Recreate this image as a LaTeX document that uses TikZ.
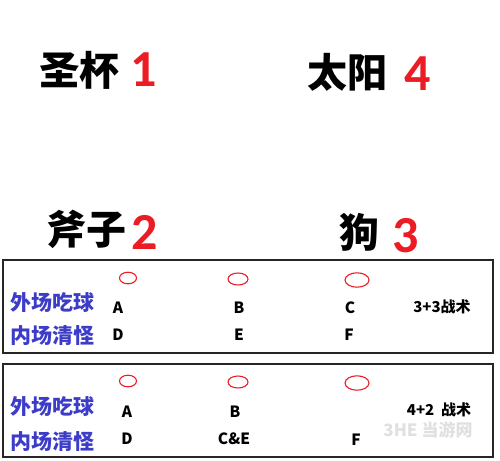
\documentclass[tikz,border=0pt]{standalone}
\usepackage{fontspec}
\setmainfont{Noto Sans CJK SC}
\newfontfamily\numfont{Carlito}
\definecolor{tblue}{RGB}{60,60,200}
\definecolor{tred}{RGB}{236,28,36}
\tikzset{
  title/.style={font=\bfseries\fontsize{40}{44}\selectfont, inner sep=0pt},
  rednum/.style={font=\numfont\bfseries\fontsize{52}{56}\selectfont, text=tred, inner sep=0pt},
  role/.style={font=\bfseries\fontsize{21}{24}\selectfont, text=tblue, inner sep=0pt},
  letter/.style={font=\bfseries\fontsize{15.5}{18}\selectfont, inner sep=0pt},
  tactic/.style={font=\bfseries\fontsize{15}{18}\selectfont, inner sep=0pt},
  spot/.style={draw=tred, line width=1.1pt},
  panel/.style={draw=black!85, line width=1.4pt},
  wm/.style={font=\bfseries\fontsize{17}{20}\selectfont, text=black!12, inner sep=0pt}
}
\begin{document}
\begin{tikzpicture}[x=1pt,y=-1pt]
\useasboundingbox (0,0) rectangle (500,460);
% titles
\node[title] (t1) at (79,70) {圣杯};
\node[rednum] (n1) at (144,70) {1};
\node[title] (t4) at (347,72) {太阳};
\node[rednum] (n4) at (418,74) {4};
\node[title] (t2) at (86,229) {斧子};
\node[rednum] (n2) at (145,232) {2};
\node[title] (t3) at (359,232) {狗};
\node[rednum] (n3) at (406,236) {3};
% panel 1
\draw[panel] (3,260) rectangle (493,353);
\draw[spot] (128,278) ellipse [x radius=8.5, y radius=5.8];
\draw[spot] (238,279) ellipse [x radius=10, y radius=6];
\draw[spot] (357,280) ellipse [x radius=12, y radius=7.2];
\node[role] (r1) at (52,303) {外场吃球};
\node[role] (r2) at (52,336) {内场清怪};
\node[letter] (a1) at (118,308) {A};
\node[letter] (b1) at (239,308) {B};
\node[letter] (c1) at (350,308) {C};
\node[letter] (d1) at (118,335) {D};
\node[letter] (e1) at (239,335) {E};
\node[letter] (f1) at (349,335) {F};
\node[tactic] (k1) at (442,307) {3+3战术};
% panel 2
\draw[panel] (3,364) rectangle (493,457);
\draw[spot] (128,381) ellipse [x radius=8.5, y radius=5.8];
\draw[spot] (238,382) ellipse [x radius=10, y radius=6];
\draw[spot] (357,383) ellipse [x radius=12, y radius=7.2];
\node[role] (r3) at (52,407) {外场吃球};
\node[role] (r4) at (52,442) {内场清怪};
\node[letter] (a2) at (127,412) {A};
\node[letter] (b2) at (235,412) {B};
\node[letter] (d2) at (127,439) {D};
\node[letter] (ce2) at (234,439) {C\&E};
\node[letter] (f2) at (356,440) {F};
\node[tactic] (k2) at (439,410) {4+2\ \ 战术};
\node[wm] (w) at (428,430) {3HE 当游网};
\end{tikzpicture}
\end{document}
